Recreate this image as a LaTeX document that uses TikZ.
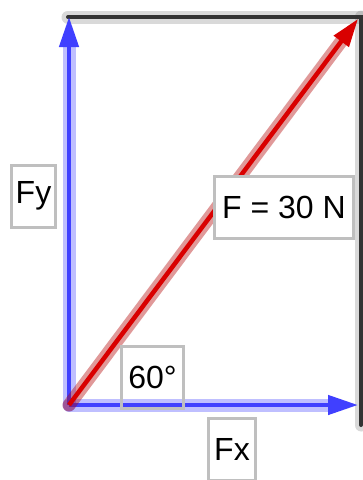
\documentclass[tikz,border=0pt]{standalone}
\usepackage{fontspec}
\setmainfont{Liberation Sans}
\usetikzlibrary{arrows.meta}

\begin{document}
\begin{tikzpicture}[x=1pt, y=-1pt,
  lbl/.style={draw=black!25, line width=3pt, fill=#1, font=\fontsize{32}{36}\selectfont, minimum height=62pt, inner sep=0pt},
  lbl/.default=white,
  halo/.style={line width=13pt, line cap=round, draw=#1, draw opacity=0.25},
  vec/.style={line width=4.5pt, draw=#1, -{Triangle[length=30pt,width=19pt]}},
  rim/.style={line width=4pt, draw=black!80, line cap=round}]
  \useasboundingbox (0,0) rectangle (363,480);
  % corner points
  \coordinate (o) at (69,405);
  \coordinate (tl) at (68,17);
  \coordinate (tr) at (361,17);
  \coordinate (br) at (361,425);
  \coordinate (fxend) at (358,405);
  \coordinate (fyend) at (69,17);
  \coordinate (fend) at (358,19);
  % frame
  \draw[halo=black!60] (tl) -- (tr);
  \draw[halo=black!60] (tr) -- (br);
  \draw[rim] (tl) -- (tr) -- (br);
  % components
  \draw[halo=blue, shorten >=28pt] (o) -- (fyend);
  \draw[halo=blue, shorten >=28pt] (o) -- (fxend);
  \draw[vec=blue!75] (o) -- (fyend);
  \draw[vec=blue!75] (o) -- (fxend);
  % resultant
  \draw[halo=red!70!black, draw opacity=0.4, shorten >=26pt] (o) -- (fend);
  \draw[vec=red!85!black, -{Triangle[length=28pt,width=18pt]}] (o) -- (fend);
  % labels
  \node[lbl, minimum width=44pt] (fy) at (33.5,196) {Fy};
  \node[lbl, minimum width=139pt] (f) at (284,207.5) {F = 30 N};
  \node[lbl=none, minimum width=62pt] (ang) at (152.5,377.5) {60°};
  \node[lbl, minimum width=47pt] (fx) at (232,449.5) {Fx};
\end{tikzpicture}
\end{document}
